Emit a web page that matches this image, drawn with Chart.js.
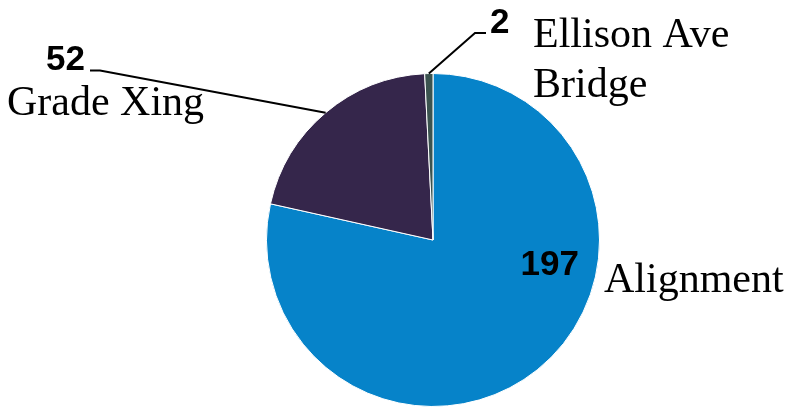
<!DOCTYPE html>
<html>
<head>
<meta charset="utf-8">
<script src="https://cdn.jsdelivr.net/npm/chart.js@4/dist/chart.umd.min.js"></script>
<style>
  html, body { margin: 0; padding: 0; background: #fff; }
  #wrap { width: 788px; height: 408px; }
</style>
</head>
<body>
<div id="wrap"><canvas id="pie" width="788" height="408"></canvas></div>
<script>
// data
const categories = ["Alignment", "Grade Xing", "Ellison Ave Bridge"];
const counts = [197, 52, 2];
const colors = ["#0683C9", "#35264B", "#3B534F"];

// label placement, relative to pie centre (style only)
const labelSpots = [
  { num: [146, 35, "right"], name: [["Alignment"], 171, 52], leader: null },
  { num: [-348, -170, "right"], name: [["Grade Xing"], -426, -125], leader: [[-333, -169.5], [-343, -169.5]] },
  { num: [57, -207, "left"], name: [["Ellison Ave", "Bridge"], 100, -193], leader: [[42, -207], [53, -207]] }
];

const pieLabels = {
  id: "pieLabels",
  afterDraw(chart) {
    const ctx = chart.ctx;
    const arcs = chart.getDatasetMeta(0).data;
    ctx.save();
    arcs.forEach((arc, i) => {
      const p = arc.getProps(["x", "y", "startAngle", "endAngle", "outerRadius"], true);
      const spot = labelSpots[i];
      const cx = p.x, cy = p.y;
      if (spot.leader) {
        const mid = (p.startAngle + p.endAngle) / 2;
        ctx.beginPath();
        ctx.strokeStyle = "#000";
        ctx.lineWidth = 2;
        ctx.moveTo(cx + Math.cos(mid) * p.outerRadius, cy + Math.sin(mid) * p.outerRadius);
        spot.leader.forEach(pt => ctx.lineTo(cx + pt[0], cy + pt[1]));
        ctx.stroke();
      }
      ctx.fillStyle = "#000";
      ctx.textBaseline = "alphabetic";
      ctx.font = "bold 35px 'Liberation Sans', Arial, sans-serif";
      ctx.textAlign = spot.num[2];
      ctx.fillText(String(counts[i]), cx + spot.num[0], cy + spot.num[1]);
      ctx.font = "42px 'Liberation Serif', 'Times New Roman', serif";
      ctx.textAlign = "left";
      spot.name[0].forEach((line, k) => {
        ctx.fillText(line, cx + spot.name[1], cy + spot.name[2] + k * 50);
      });
    });
    ctx.restore();
  }
};

new Chart(document.getElementById("pie").getContext("2d"), {
  type: "pie",
  data: {
    labels: categories,
    datasets: [{
      data: counts,
      backgroundColor: colors,
      borderColor: "#ffffff",
      borderWidth: 1
    }]
  },
  options: {
    responsive: false,
    animation: false,
    layout: { padding: { top: 73, bottom: 1, left: 266, right: 188 } },
    plugins: {
      legend: { display: false },
      tooltip: { enabled: false }
    }
  },
  plugins: [pieLabels]
});
</script>
</body>
</html>
